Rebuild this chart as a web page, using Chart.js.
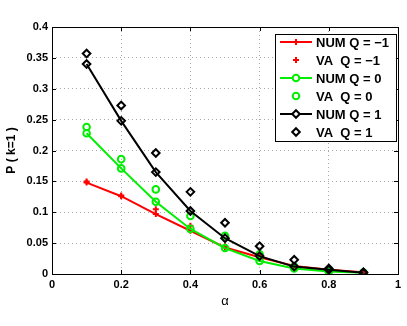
<!DOCTYPE html>
<html><head><meta charset="utf-8">
<script src="https://cdn.jsdelivr.net/npm/chart.js@4/dist/chart.umd.min.js"></script>
<style>html,body{margin:0;padding:0;background:#fff}canvas{display:block}</style>
</head><body>
<canvas id="c" width="407" height="326"></canvas>
<script>
const alphas = [0.1,0.2,0.3,0.4,0.5,0.6,0.7,0.8,0.9];
const numQm1 = [0.148,0.126,0.097,0.070,0.043,0.027,0.013,0.007,0.003];
const vaQm1  = [0.150,0.127,0.105,0.078,0.045,0.028,0.013,0.007,0.003];
const numQ0  = [0.228,0.171,0.117,0.073,0.042,0.021,0.009,0.004,0.002];
const vaQ0   = [0.238,0.186,0.137,0.094,0.062,0.032,0.012,0.005,0.002];
const numQ1  = [0.340,0.248,0.165,0.102,0.058,0.029,0.012,0.007,0.002];
const vaQ1   = [0.357,0.273,0.196,0.133,0.083,0.045,0.023,0.009,0.003];
const xTicks = [0,0.2,0.4,0.6,0.8,1];
const yTicks = [0,0.05,0.1,0.15,0.2,0.25,0.3,0.35,0.4];
const legendLabels = ['NUM Q = \u22121','VA  Q = \u22121','NUM Q = 0','VA  Q = 0','NUM Q = 1','VA  Q = 1'];

const RED='#ff0000', GREEN='#00ee00', BLACK='#000000';
const pts = a => alphas.map((x,i)=>({x, y:a[i]}));
const FONT = '"Liberation Sans", Arial, sans-serif';

const datasets = [
  {label:legendLabels[0], data:pts(numQm1), borderColor:RED, backgroundColor:RED, borderWidth:2, showLine:true,
   pointStyle:'cross', pointRadius:3, pointBorderWidth:2, pointBorderColor:RED, order:3},
  {label:legendLabels[1], data:pts(vaQm1), borderColor:RED, backgroundColor:RED, showLine:false,
   pointStyle:'cross', pointRadius:3, pointBorderWidth:2, pointBorderColor:RED, order:3},
  {label:legendLabels[2], data:pts(numQ0), borderColor:GREEN, backgroundColor:'rgba(0,0,0,0)', borderWidth:2, showLine:true,
   pointStyle:'circle', pointRadius:3.3, pointBorderWidth:2, pointBorderColor:GREEN, order:2},
  {label:legendLabels[3], data:pts(vaQ0), borderColor:GREEN, backgroundColor:'rgba(0,0,0,0)', showLine:false,
   pointStyle:'circle', pointRadius:3.3, pointBorderWidth:2, pointBorderColor:GREEN, order:2},
  {label:legendLabels[4], data:pts(numQ1), borderColor:BLACK, backgroundColor:'rgba(0,0,0,0)', borderWidth:2, showLine:true,
   pointStyle:'rectRot', pointRadius:3.8, pointBorderWidth:2, pointBorderColor:BLACK, order:1},
  {label:legendLabels[5], data:pts(vaQ1), borderColor:BLACK, backgroundColor:'rgba(0,0,0,0)', showLine:false,
   pointStyle:'rectRot', pointRadius:3.8, pointBorderWidth:2, pointBorderColor:BLACK, order:1},
];

const frame = {
  id:'frame',
  afterDatasetsDraw(chart){
    const {ctx, chartArea:a, scales:{x,y}} = chart;
    ctx.save();
    ctx.strokeStyle='#000'; ctx.lineWidth=1;
    ctx.beginPath();
    xTicks.forEach(v=>{const px=Math.round(x.getPixelForValue(v))+0.5;
      ctx.moveTo(px,a.bottom); ctx.lineTo(px,a.bottom-4);
      ctx.moveTo(px,a.top); ctx.lineTo(px,a.top+4);});
    yTicks.forEach(v=>{const py=Math.round(y.getPixelForValue(v))+0.5;
      ctx.moveTo(a.left,py); ctx.lineTo(a.left+4,py);
      ctx.moveTo(a.right,py); ctx.lineTo(a.right-4,py);});
    ctx.stroke();
    ctx.strokeStyle='#000';
    ctx.strokeRect(Math.round(a.left)+0.5, Math.round(a.top)+0.5, Math.round(a.right-a.left), Math.round(a.bottom-a.top));
    // legend
    const lx=275, ly=34, lw=121, lh=107;
    ctx.fillStyle='#fff'; ctx.fillRect(lx,ly,lw,lh);
    ctx.strokeStyle='#000'; ctx.lineWidth=1; ctx.strokeRect(lx+0.5,ly+0.5,lw,lh);
    ctx.font='bold 13px '+FONT; ctx.textBaseline='middle'; ctx.textAlign='left';
    chart.data.datasets.forEach((ds,i)=>{
      const cy = ly+8+i*18;
      const color = ds.pointBorderColor;
      if (ds.showLine){
        ctx.strokeStyle=color; ctx.lineWidth=2;
        ctx.beginPath(); ctx.moveTo(280,cy); ctx.lineTo(312,cy); ctx.stroke();
      }
      ctx.strokeStyle=color; ctx.fillStyle = ds.pointStyle==='cross'?color:'#fff';
      ctx.lineWidth=2;
      Chart.helpers.drawPoint(ctx,{pointStyle:ds.pointStyle, radius:ds.pointRadius, borderWidth:2, rotation:0},296,cy);
      ctx.fillStyle='#000';
      ctx.fillText(ds.label, 316, cy+1);
    });
    ctx.restore();
  }
};

new Chart(document.getElementById('c'), {
  type:'scatter',
  data:{datasets},
  options:{
    responsive:false, animation:false,
    layout:{padding:{top:27,right:9,left:0,bottom:0}},
    plugins:{legend:{display:false}, tooltip:{enabled:false}},
    scales:{
      x:{type:'linear', min:0, max:1,
        afterBuildTicks(s){ s.ticks = xTicks.map(v=>({value:v})); },
        afterFit(s){ s.height=52; },
        grid:{color:'#a8a8a8', drawTicks:false, lineWidth:1},
        border:{display:false, dash:[1,3]},
        ticks:{color:'#000', padding:4, font:{family:FONT, size:11, weight:'bold'}, maxRotation:0,
          callback:v=>String(v)},
        title:{display:true, text:'\u03b1', color:'#000', padding:{top:0, bottom:17}, font:{family:FONT, size:13, weight:'normal'}}
      },
      y:{type:'linear', min:0, max:0.4,
        afterBuildTicks(s){ s.ticks = yTicks.map(v=>({value:v})); },
        afterFit(s){ s.width=52; },
        grid:{color:'#a8a8a8', drawTicks:false, lineWidth:1},
        border:{display:false, dash:[1,3]},
        ticks:{color:'#000', padding:4, font:{family:FONT, size:11, weight:'bold'},
          callback:v=>String(+v.toFixed(2))},
        title:{display:true, text:'P ( k=1 )', color:'#000', padding:{bottom:2}, font:{family:FONT, size:12, weight:'bold'}}
      }
    }
  },
  plugins:[frame]
});
</script>
</body></html>
